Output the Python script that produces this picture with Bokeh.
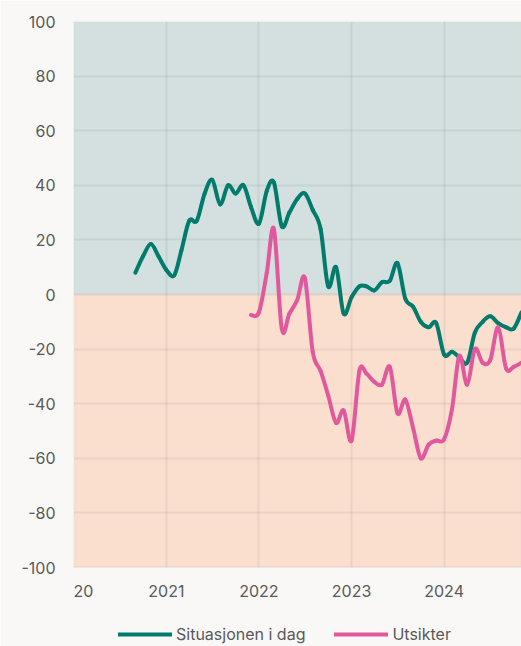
from datetime import datetime
import numpy as np
from bokeh.plotting import figure
from bokeh.models import (Range1d, FixedTicker, DatetimeTickFormatter, BoxAnnotation,
                          Legend, LegendItem, ColumnDataSource)
from bokeh.embed import file_html
from bokeh.resources import INLINE

# ---- data ----
months_situasjon = [datetime(2020 + (m // 12), m % 12 + 1, 1) for m in range(8, 59)]
situasjon = [8, 14, 18.5, 14, 9, 7, 16, 27, 27, 37, 42, 33, 40, 37, 40, 32, 26, 38, 41, 25,
             30, 35, 37, 31, 24, 3, 10, -7, -1, 3, 3, 1.5, 4.5, 5, 11.5, -1.5, -4.5, -10,
             -12, -10.5, -22, -21, -23, -25, -14, -10, -8, -10.5, -12, -12.5, -6.5]

months_utsikter = [datetime(2020 + (m // 12), m % 12 + 1, 1) for m in range(23, 59)]
utsikter = [-7.5, -6.5, 8, 24, -12.5, -7, -2, 6, -21, -28, -37, -47, -42.5, -53.5, -28, -29,
            -32, -33, -26.5, -43.5, -38.5, -49, -60, -55, -53.5, -53, -42, -22.5, -33, -20,
            -25, -24, -12, -27, -26.5, -25]

year_ticks = [2020, 2021, 2022, 2023, 2024]
y_ticks = [-100, -80, -60, -40, -20, 0, 20, 40, 60, 80, 100]
y_labels = [str(v) for v in y_ticks]
series_names = ["Situasjonen i dag", "Utsikter"]
colors = ["#007b6c", "#e2589d"]

TEXT = "#595959"
FONT = "Inter"
PAGE_BG = "#f9f8f6"

Y_MIN, Y_MAX = min(y_ticks), max(y_ticks)
# frame extends below the value axis to hold the legend (546 px for the 200-unit span)
Y_BOTTOM = Y_MAX - (Y_MAX - Y_MIN) * 625.0 / 546.0


def to_ms(d):
    return (d - datetime(1970, 1, 1)).total_seconds() * 1000.0


def bezier_source(dates, vals):
    x = np.array([to_ms(d) for d in dates])
    y = np.array(vals, dtype=float)
    n = len(x)
    xp = np.concatenate([[x[0]], x, [x[-1]]])
    yp = np.concatenate([[y[0]], y, [y[-1]]])
    i = np.arange(n - 1)
    x0, y0 = x[:-1], y[:-1]
    x1, y1 = x[1:], y[1:]
    cx0 = x0 + (xp[i + 2] - xp[i]) / 6.0
    cy0 = y0 + (yp[i + 2] - yp[i]) / 6.0
    cx1 = x1 - (xp[i + 3] - xp[i + 1]) / 6.0
    cy1 = y1 - (yp[i + 3] - yp[i + 1]) / 6.0
    return ColumnDataSource(dict(x0=x0, y0=y0, x1=x1, y1=y1, cx0=cx0, cy0=cy0, cx1=cx1, cy1=cy1))


p = figure(width=521, height=646, x_axis_type="datetime", output_backend="svg",
           toolbar_location=None,
           x_range=Range1d(to_ms(datetime(2020, 1, 1)), to_ms(datetime(2024, 11, 1))),
           y_range=Range1d(Y_BOTTOM, Y_MAX),
           min_border_left=73, min_border_right=0, min_border_top=21, min_border_bottom=0)
p.background_fill_color = PAGE_BG
p.border_fill_color = PAGE_BG
p.outline_line_color = None

# background bands (with light outline)
p.add_layout(BoxAnnotation(bottom=0, top=Y_MAX, fill_color="#d3e0df", fill_alpha=1,
                           line_color="#d6dad8", line_width=2, level="image"))
p.add_layout(BoxAnnotation(top=0, bottom=Y_MIN, fill_color="#fadfcf", fill_alpha=1,
                           line_color="#e6d6cb", line_width=2, level="image"))

# grids
for g in (p.xgrid, p.ygrid):
    g.grid_line_color = "#000000"
    g.grid_line_alpha = 0.055
    g.grid_line_width = 2
    g.level = "underlay"

# cover the grid below the value range (legend area)
p.add_layout(BoxAnnotation(top=Y_MIN, fill_color=PAGE_BG, fill_alpha=1, line_alpha=0,
                           level="glyph"))

# axes
p.yaxis.ticker = FixedTicker(ticks=y_ticks)
p.yaxis.major_label_overrides = {t: l for t, l in zip(y_ticks, y_labels)}
p.xaxis.ticker = FixedTicker(ticks=[to_ms(datetime(y, 1, 1)) for y in year_ticks])
p.xaxis.formatter = DatetimeTickFormatter(years="%Y", months="%Y", days="%Y", hours="%Y",
                                          minutes="%Y", seconds="%Y", milliseconds="%Y")
p.xaxis.fixed_location = Y_MIN
for ax in (p.xaxis, p.yaxis):
    ax.axis_line_color = None
    ax.major_tick_line_color = None
    ax.minor_tick_line_color = None
    ax.major_tick_out = 0
    ax.minor_tick_out = 0
    ax.major_label_text_font = FONT
    ax.major_label_text_font_size = "16px"
    ax.major_label_text_color = TEXT
p.yaxis.major_label_standoff = 18
p.xaxis.major_label_standoff = 17

# lines
items = []
for dates, vals, name, col in [(months_situasjon, situasjon, series_names[0], colors[0]),
                               (months_utsikter, utsikter, series_names[1], colors[1])]:
    src = bezier_source(dates, vals)
    r = p.bezier(x0="x0", y0="y0", x1="x1", y1="y1", cx0="cx0", cy0="cy0", cx1="cx1", cy1="cy1",
                 source=src, line_color=col, line_width=4, line_cap="round")
    items.append(LegendItem(label=name, renderers=[r]))

legend = Legend(items=items, orientation="horizontal", location=(45, 1),
                glyph_width=54, glyph_height=22, label_height=22, label_standoff=4, spacing=29,
                padding=0, margin=0, border_line_color=None, background_fill_alpha=0,
                label_text_font=FONT, label_text_font_size="16px", label_text_color=TEXT)
p.add_layout(legend, "center")

open("out.html", "w").write(file_html(p, INLINE))
